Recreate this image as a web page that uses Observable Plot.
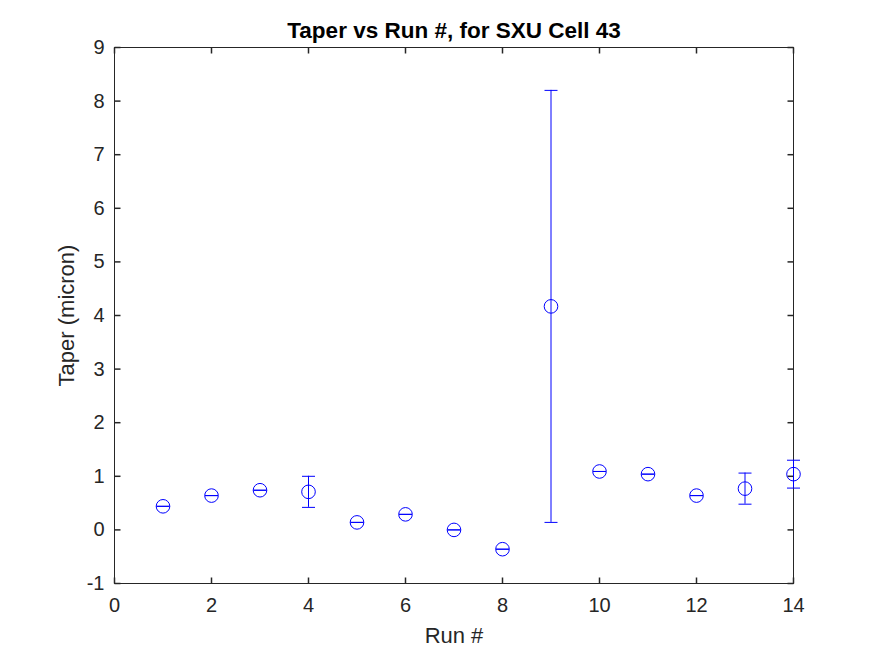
<!DOCTYPE html>
<html>
<head>
<meta charset="utf-8">
<script src="https://cdn.jsdelivr.net/npm/d3@7"></script>
<script src="https://cdn.jsdelivr.net/npm/@observablehq/plot@0.6"></script>
<style>
  html, body { margin: 0; padding: 0; background: white; }
  #chart { width: 875px; height: 656px; }
</style>
</head>
<body>
<div id="chart"></div>
<script>
const runs  = [1, 2, 3, 4, 5, 6, 7, 8, 9, 10, 11, 12, 13, 14];
const taper = [0.44, 0.64, 0.74, 0.71, 0.14, 0.29, 0.00, -0.36, 4.17, 1.09, 1.04, 0.64, 0.77, 1.04];
const errs  = [0, 0, 0, 0.29, 0, 0, 0, 0, 4.03, 0, 0, 0, 0.29, 0.26];
const xTicks = [0, 2, 4, 6, 8, 10, 12, 14];
const yTicks = [-1, 0, 1, 2, 3, 4, 5, 6, 7, 8, 9];
const titleText = "Taper vs Run #, for SXU Cell 43";
const xLabel = "Run #";
const yLabel = "Taper (micron)";

const data = runs.map((r, i) => ({run: r, t: taper[i], e: errs[i]}));

const hLine = (len) => ({draw(ctx) { ctx.moveTo(-len, 0); ctx.lineTo(len, 0); }});
const segSym = (x1, y1, x2, y2) => ({draw(ctx) { ctx.moveTo(x1, y1); ctx.lineTo(x2, y2); }});
const TL = 6;

const blue = "#0000ff";
const axisColor = "#262626";

const chart = Plot.plot({
  width: 875,
  height: 656,
  marginLeft: 114,
  marginRight: 82,
  marginTop: 47,
  marginBottom: 73,
  x: {domain: [0, 14]},
  y: {domain: [-1, 9]},
  style: {fontFamily: "'Liberation Sans', Arial, sans-serif", fontSize: "20px", color: axisColor, background: "white"},
  marks: [
    Plot.axisX({ticks: xTicks, tickFormat: d => String(d), tickSize: 0, tickPadding: 14, fontSize: 20, label: xLabel, labelAnchor: "center", labelArrow: "none", labelOffset: 59}),
    Plot.axisY({ticks: yTicks, tickFormat: d => String(d), tickSize: 0, tickPadding: 10, fontSize: 20, label: yLabel, labelAnchor: "center", labelArrow: "none", labelOffset: 56}),
    // inward ticks on all four sides
    Plot.dot(xTicks, {x: d => d, y: () => -1, symbol: segSym(0, 0, 0, -TL), stroke: axisColor, r: 5}),
    Plot.dot(xTicks, {x: d => d, y: () => 9, symbol: segSym(0, 0, 0, TL), stroke: axisColor, r: 5}),
    Plot.dot(yTicks, {y: d => d, x: () => 0, symbol: segSym(0, 0, TL, 0), stroke: axisColor, r: 5}),
    Plot.dot(yTicks, {y: d => d, x: () => 14, symbol: segSym(0, 0, -TL, 0), stroke: axisColor, r: 5}),
    Plot.frame({stroke: axisColor}),
    // error bars
    Plot.ruleX(data, {x: "run", y1: d => d.t - d.e, y2: d => d.t + d.e, stroke: blue, strokeWidth: 1}),
    Plot.dot(data, {x: "run", y: d => d.t - d.e, symbol: hLine(6.5), stroke: blue, r: 5, strokeWidth: 1}),
    Plot.dot(data, {x: "run", y: d => d.t + d.e, symbol: hLine(6.5), stroke: blue, r: 5, strokeWidth: 1}),
    // markers
    Plot.dot(data, {x: "run", y: "t", r: 6.8, stroke: blue, fill: "none", strokeWidth: 1}),
    // title
    Plot.text([titleText], {frameAnchor: "top", dy: -10, fontSize: 22.5, fontWeight: "bold", fill: "black", lineAnchor: "bottom"})
  ]
});

chart.querySelectorAll('g[aria-label="x-axis label"], g[aria-label="y-axis label"]').forEach(g => g.setAttribute("font-size", "22"));

document.getElementById("chart").appendChild(chart);
</script>
</body>
</html>
